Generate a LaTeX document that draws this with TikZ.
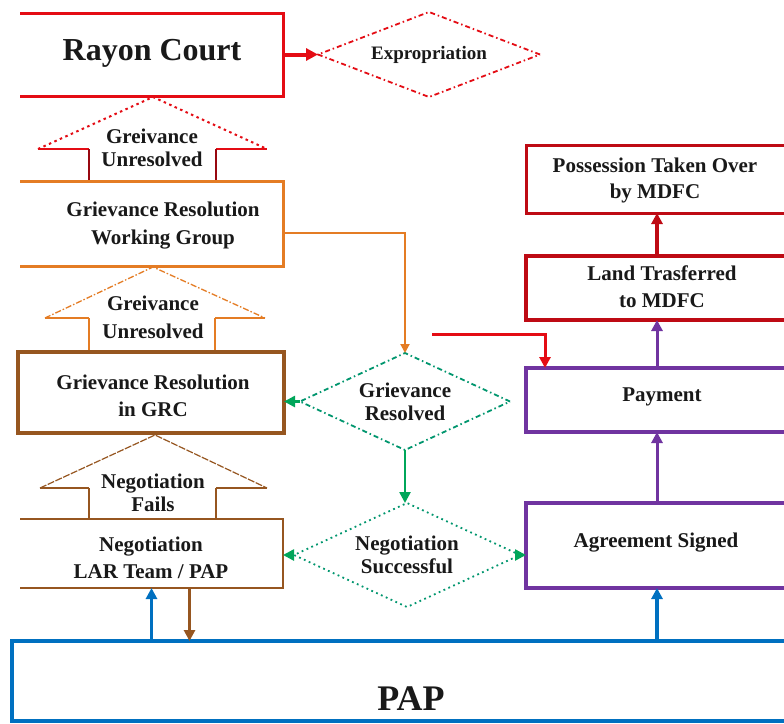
\documentclass[tikz,border=0pt]{standalone}
\usepackage{fontspec}
\setmainfont{Liberation Serif}
\usetikzlibrary{arrows.meta,shapes.geometric}
\definecolor{cred}{RGB}{228,12,20}
\definecolor{cdkred}{RGB}{190,10,20}
\definecolor{corange}{RGB}{228,124,36}
\definecolor{cbrown}{RGB}{150,86,32}
\definecolor{cpurple}{RGB}{112,52,160}
\definecolor{cgreen}{RGB}{0,166,90}
\definecolor{cteal}{RGB}{0,150,110}
\definecolor{cblue}{RGB}{0,112,192}
\begin{document}
\begin{tikzpicture}[x=1pt,y=-1pt,
  boxshape/.style={rectangle,inner sep=0,outer sep=0},
  txt/.style={font=\fontsize{21}{27}\selectfont\bfseries,align=center,inner sep=0,text=black!90},
  txtsm/.style={font=\fontsize{21}{23}\selectfont\bfseries,align=center,inner sep=0,text=black!90},
  dia/.style={diamond,inner sep=0,outer sep=0,align=center,font=\fontsize{21}{23}\selectfont\bfseries,text=black!90},
  diadash/.style={dash pattern=on 5pt off 3pt on 1.5pt off 3pt},
  tipA/.style={-{Triangle[length=12pt,width=12pt]}},
  tipB/.style={-{Triangle[length=11pt,width=11pt]}},
  tipC/.style={-{Triangle[length=9pt,width=9pt]}}]
\useasboundingbox (0,0) rectangle (784,723);
\clip (0,0) rectangle (784,723);
\fill[white] (0,0) rectangle (784,723);

% ---------- boxes ----------
\node[boxshape,minimum width=263pt,minimum height=83pt] (rayon) at (151.5,54.5) {};
\draw[cred,line width=3pt] (rayon.north west) -- (rayon.north east) -- (rayon.south east) -- (rayon.south west);
\node[txt,font=\fontsize{32}{36}\selectfont\bfseries] (rayontxt) at (152,53) {Rayon Court};

\node[dia,aspect=2.6,draw=cred,line width=1.8pt,diadash,minimum width=222pt,minimum height=85pt,font=\fontsize{19}{22}\selectfont\bfseries] (exprop) at (429,54.5) {Expropriation};

\node[boxshape,minimum width=263pt,minimum height=85pt] (grwg) at (151.5,223.5) {};
\draw[corange,line width=3pt] (grwg.north west) -- (grwg.north east) -- (grwg.south east) -- (grwg.south west);
\node[txt,font=\fontsize{21}{28}\selectfont\bfseries] (grwgtxt) at (163,226) {Grievance Resolution\\Working Group};

\node[boxshape,draw=cbrown,line width=4pt,minimum width=266pt,minimum height=81pt] (grc) at (151,392.5) {};
\node[txt] (grctxt) at (153,396) {Grievance Resolution\\in GRC};

\node[boxshape,minimum width=263pt,minimum height=69pt] (neg) at (151.5,553.5) {};
\draw[cbrown,line width=2pt] (neg.north west) -- (neg.north east) -- (neg.south east) -- (neg.south west);
\node[txt] (negtxt) at (151,558) {Negotiation\\LAR Team / PAP};

\node[boxshape,draw=cblue,line width=3.5pt,minimum width=788pt,minimum height=80pt] (pap) at (406,681) {};
\node[txt,font=\fontsize{36}{40}\selectfont\bfseries] (paptxt) at (411,699) {PAP};

\node[boxshape,draw=cdkred,line width=3pt,minimum width=274pt,minimum height=68pt] (poss) at (663,179) {};
\node[txt,font=\fontsize{21}{26}\selectfont\bfseries] (posstxt) at (655,180) {Possession Taken Over\\by MDFC};

\node[boxshape,draw=cdkred,line width=3.5pt,minimum width=274pt,minimum height=64pt] (land) at (663,288) {};
\node[txt] (landtxt) at (662,287) {Land Trasferred\\to MDFC};

\node[boxshape,draw=cpurple,line width=3.5pt,minimum width=274pt,minimum height=64pt] (pay) at (663,400) {};
\node[txt] (paytxt) at (662,397) {Payment};

\node[boxshape,draw=cpurple,line width=4pt,minimum width=274pt,minimum height=85pt] (agree) at (663,545.5) {};
\node[txt] (agreetxt) at (656,543) {Agreement Signed};

\node[dia,aspect=2.2,draw=cteal,line width=1.8pt,diadash,minimum width=210pt,minimum height=97pt] (gres) at (405,401.5) {Grievance\\Resolved};
\node[dia,aspect=2.2,draw=cteal,line width=1.8pt,dash pattern=on 1.8pt off 3.5pt,minimum width=226pt,minimum height=104pt] (negs) at (407,555) {Negotiation\\Successful};

% ---------- block arrows ----------
\draw[cred,line width=2pt,dash pattern=on 2.5pt off 3.5pt] (38,149) -- (153,97) -- (267,149);
\draw[cred,line width=2.5pt] (38,149) -- (89,149) (216,149) -- (267,149);
\draw[cdkred!80!black,line width=1.2pt] (89,149) -- (89,180) (216,149) -- (216,180);
\node[txtsm] (au1) at (152,148) {Greivance\\Unresolved};

\draw[corange,line width=1.3pt,dash pattern=on 6pt off 2pt on 1.5pt off 2pt] (45,318) -- (153,267) -- (265,318);
\draw[corange,line width=1.6pt] (45,318) -- (89,318) (215,318) -- (265,318);
\draw[corange,line width=1.3pt] (89,318) -- (89,350) (215,318) -- (215,350);
\node[txt,font=\fontsize{21}{28}\selectfont\bfseries] (au2) at (153,317) {Greivance\\Unresolved};

\draw[cbrown,line width=1.2pt,dash pattern=on 7pt off 1.5pt] (40,488) -- (155,435) -- (267,488);
\draw[cbrown,line width=1.6pt] (40,488) -- (89,488) (216,488) -- (267,488);
\draw[cbrown,line width=1.3pt] (89,488) -- (89,519) (216,488) -- (216,519);
\node[txtsm] (au3) at (153,493) {Negotiation\\Fails};

% ---------- connectors ----------
\draw[cred,line width=4pt,tipA] (rayon.east) -- (exprop.west);

\draw[corange,line width=2pt,tipC] ([yshift=-9.5pt]grwg.east) -| (gres.north);

\draw[cgreen,line width=2.5pt,tipB] (gres.west) -- (gres.west -| grc.east);
\draw[cgreen,line width=2.5pt,tipB] (gres.south) -- (gres.south |- negs.north);
\draw[cgreen,line width=2.5pt,tipB] (negs.west) -- (negs.west -| neg.east);
\draw[cgreen,line width=2.5pt,tipB] (negs.east) -- (negs.east -| agree.west);

\coordinate (redstart) at (432,334);
\coordinate (redx) at (545,0);
\draw[cred,line width=3pt,tipB] (redstart) -| (pay.north -| redx);

\coordinate (colx) at (657,0);
\draw[cdkred,line width=3.5pt,tipB] (land.north -| colx) -- (poss.south -| colx);
\draw[cpurple,line width=3pt,tipB] (pay.north -| colx) -- (land.south -| colx);
\draw[cpurple,line width=3pt,tipB] (agree.north -| colx) -- (pay.south -| colx);
\draw[cblue,line width=3.5pt,tipB] (pap.north -| colx) -- (agree.south -| colx);

\draw[cblue,line width=3.5pt,tipB] (pap.north -| neg.south) -- (neg.south);
\draw[cbrown,line width=3.5pt,tipB] ([xshift=38pt]neg.south) -- ([xshift=38pt]neg.south |- pap.north);
\end{tikzpicture}
\end{document}
